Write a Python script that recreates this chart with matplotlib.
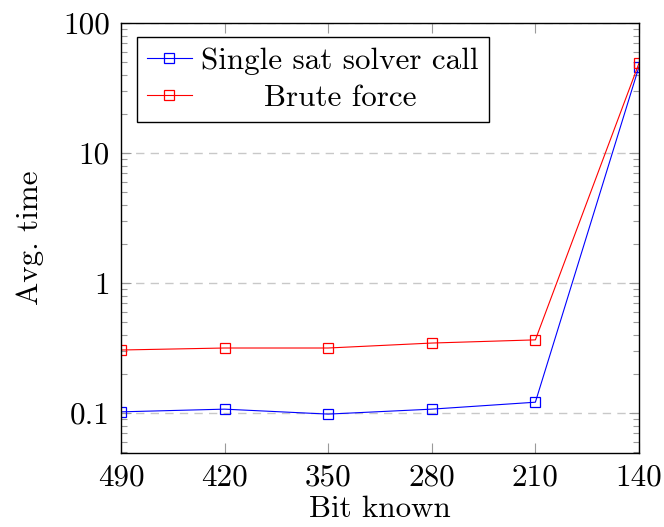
import matplotlib
matplotlib.use("Agg")
import matplotlib.pyplot as plt
from matplotlib.ticker import FixedLocator, FixedFormatter, LogLocator, NullFormatter

bits = [490, 420, 350, 280, 210, 140]
single_sat = [0.102, 0.107, 0.098, 0.107, 0.121, 46.0]
brute_force = [0.305, 0.316, 0.316, 0.345, 0.365, 49.0]
series_labels = ["Single sat solver call", "Brute force"]
ytick_vals = [0.1, 1, 10, 100]
ytick_labels = ["0.1", "1", "10", "100"]
xlabel = "Bit known"
ylabel = "Avg. time"

plt.rcParams["font.family"] = ["cmr10", "DejaVu Serif"]
plt.rcParams["mathtext.fontset"] = "cm"
plt.rcParams["axes.formatter.use_mathtext"] = True

FS = 22.4
fig = plt.figure(figsize=(6.64, 5.27), dpi=100)
ax = fig.add_axes([0.1822, 0.1404, 0.7801, 0.8160])

kw = dict(marker="s", markerfacecolor="none", markersize=7.5, linewidth=0.8, markeredgewidth=0.9)
ax.plot(bits, single_sat, color="blue", label=series_labels[0], **kw)
ax.plot(bits, brute_force, color="red", label=series_labels[1], **kw)

ax.set_yscale("log")
ax.set_ylim(0.0492, 100)
ax.set_xlim(bits[0], bits[-1])
ax.set_xticks(bits)
ax.set_xticklabels([str(b) for b in bits])
ax.yaxis.set_major_locator(FixedLocator(ytick_vals))
ax.yaxis.set_major_formatter(FixedFormatter(ytick_labels))
ax.yaxis.set_minor_locator(LogLocator(base=10, subs=range(2, 10)))
ax.yaxis.set_minor_formatter(NullFormatter())

ax.tick_params(axis="both", which="major", direction="in", length=7, width=0.8,
               color="#9a9a9a", top=True, right=True, labelsize=FS, pad=8)
ax.tick_params(axis="y", which="minor", direction="in", length=4.5, width=0.8,
               color="#9a9a9a", right=True, left=True)
ax.tick_params(axis="x", which="minor", bottom=False, top=False)

for s in ax.spines.values():
    s.set_linewidth(1.0)
    s.set_color("black")

ax.grid(True, axis="y", which="major", linestyle=(0, (6, 4.5)), color="#c8c8c8", linewidth=1.0)
ax.set_axisbelow(True)

ax.set_xlabel(xlabel, fontsize=FS, labelpad=3)
ax.set_ylabel(ylabel, fontsize=FS, labelpad=14)

leg = ax.legend(loc="upper left", bbox_to_anchor=(0.0309, 0.9674), borderaxespad=0,
                fontsize=FS, frameon=True, fancybox=False, framealpha=1,
                edgecolor="black", handlelength=1.45, handletextpad=0.3,
                borderpad=0.32, labelspacing=0.3)
leg.get_frame().set_linewidth(1.0)

fig.canvas.draw()
r = fig.canvas.get_renderer()
texts = leg.get_texts()
w0 = texts[0].get_window_extent(r).width
w1 = texts[1].get_window_extent(r).width
texts[1].set_x((w0 - w1) / 2)

fig.savefig("out.png", dpi=100)
